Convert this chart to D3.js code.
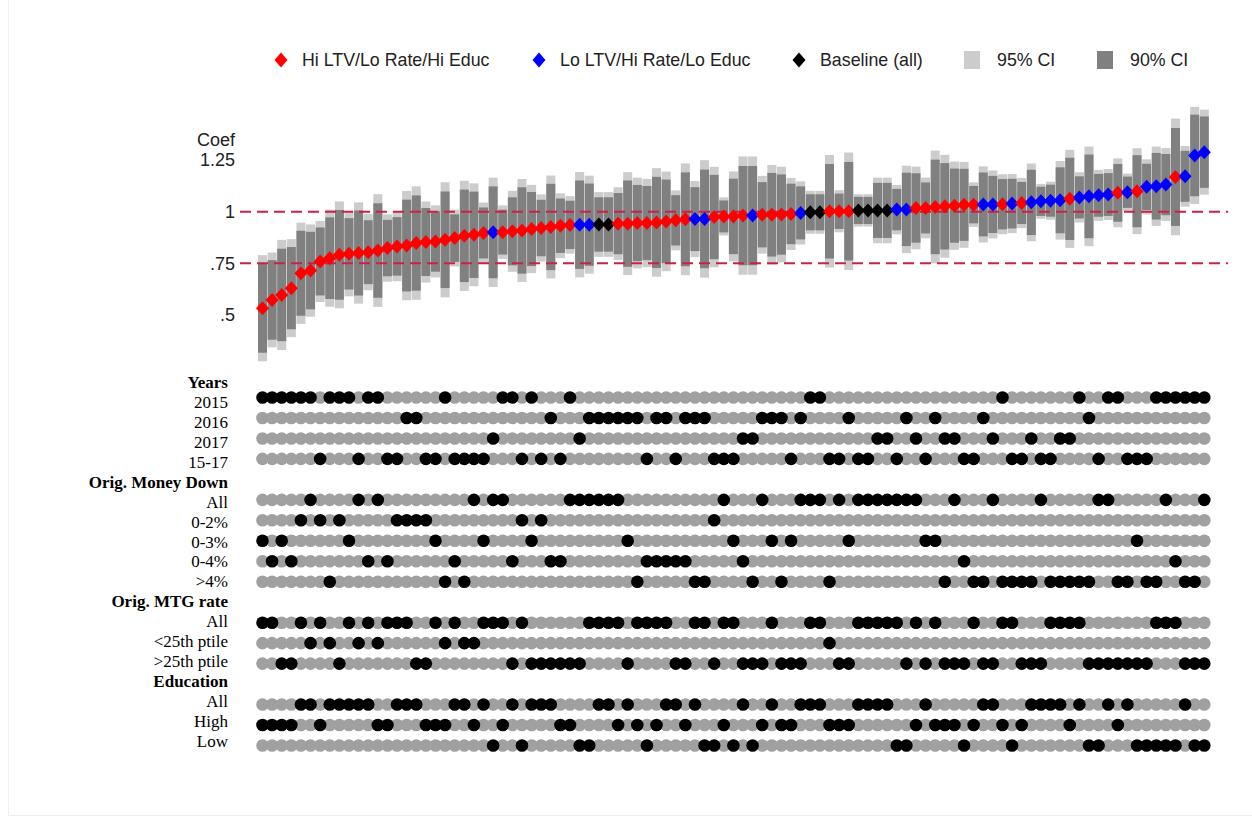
<!DOCTYPE html>
<html>
<head>
<meta charset="utf-8">
<script src="https://cdn.jsdelivr.net/npm/d3@7"></script>
<style>
  body { margin: 0; background: #fff; }
  svg { display: block; }
</style>
</head>
<body>
<div id="display"></div>
<script>
var width = 1252,
    height = 827;

var svg = d3.select("#display")
    .append("svg")
    .attr("width", width)
    .attr("height", height);

// point estimates, sorted
var coef = [0.533, 0.573, 0.597, 0.630, 0.702, 0.715, 0.759, 0.775, 0.791, 0.796, 0.800, 0.804, 0.812, 0.824, 0.832, 0.836, 0.848, 0.853, 0.856, 0.864, 0.872, 0.883, 0.888, 0.897, 0.900,
    0.901, 0.905, 0.909, 0.916, 0.921, 0.926, 0.932, 0.936, 0.937, 0.937, 0.938, 0.938, 0.942, 0.942, 0.945, 0.945, 0.948, 0.953, 0.958, 0.963, 0.964, 0.965, 0.974, 0.977,
    0.977, 0.981, 0.981, 0.985, 0.985, 0.986, 0.989, 0.994, 0.997, 0.997, 1.002, 1.002, 1.002, 1.006, 1.006, 1.006, 1.006, 1.010, 1.011, 1.018, 1.018, 1.023, 1.026, 1.029, 1.033,
    1.034, 1.035, 1.035, 1.036, 1.039, 1.042, 1.045, 1.050, 1.053, 1.055, 1.062, 1.069, 1.074, 1.079, 1.083, 1.091, 1.094, 1.099, 1.120, 1.123, 1.131, 1.168, 1.171, 1.272, 1.288];

// standard errors
var se = [0.131, 0.117, 0.136, 0.121, 0.125, 0.114, 0.100, 0.120, 0.132, 0.105, 0.125, 0.094, 0.139, 0.083, 0.086, 0.135, 0.140, 0.100, 0.089, 0.142, 0.070, 0.136, 0.127, 0.075, 0.135,
    0.066, 0.100, 0.127, 0.109, 0.083, 0.127, 0.080, 0.071, 0.130, 0.121, 0.080, 0.080, 0.090, 0.127, 0.112, 0.109, 0.134, 0.123, 0.074, 0.138, 0.094, 0.145, 0.124, 0.047,
    0.111, 0.146, 0.146, 0.096, 0.123, 0.118, 0.089, 0.078, 0.053, 0.053, 0.139, 0.052, 0.145, 0.040, 0.040, 0.081, 0.081, 0.061, 0.108, 0.102, 0.075, 0.139, 0.127, 0.109, 0.106,
    0.055, 0.094, 0.084, 0.074, 0.073, 0.062, 0.096, 0.043, 0.047, 0.097, 0.121, 0.062, 0.123, 0.063, 0.063, 0.085, 0.046, 0.106, 0.068, 0.098, 0.090, 0.144, 0.075, 0.120, 0.105];

// H = Hi LTV/Lo Rate/Hi Educ, L = Lo LTV/Hi Rate/Lo Educ, B = baseline
var specType = ("HHHHHHHHHHHHHHHHHHHHHHHH" + "L" + "HHHHHHHH" + "LL" + "BB" + "HHHHHHHH" + "LL" +
    "HHHH" + "L" + "HHHH" + "L" + "BB" + "HHH" + "BBBB" + "LL" + "HHHHHHH" + "LL" + "H" + "L" + "H" +
    "LLLL" + "H" + "LLLL" + "H" + "L" + "H" + "LLL" + "H" + "LLL").split("");

var typeColor = { H: "#ff0000", L: "#0000ff", B: "#000000" };

var yTicks = [0.5, 0.75, 1, 1.25];
var yTickLabels = [".5", ".75", "1", "1.25"];
var refLines = [0.75, 1];

// specification rows: columns where the dot is black
var rows = [
    { label: "Years", header: true },
    { label: "2015", on: [0, 1, 2, 3, 4, 5, 7, 8, 9, 11, 12, 19, 25, 26, 28, 32, 57, 58, 77, 85, 88, 89, 93, 94, 95, 96, 97, 98] },
    { label: "2016", on: [15, 16, 30, 34, 35, 36, 37, 38, 39, 41, 42, 44, 45, 46, 52, 53, 54, 56, 61, 67, 70, 75, 86] },
    { label: "2017", on: [24, 33, 50, 51, 64, 65, 68, 71, 72, 76, 80, 83, 84] },
    { label: "15-17", on: [6, 10, 13, 14, 17, 18, 20, 21, 22, 23, 27, 29, 31, 40, 43, 47, 48, 49, 55, 59, 60, 62, 63, 66, 69, 73, 74, 78, 79, 81, 82, 87, 90, 91, 92] },
    { label: "Orig. Money Down", header: true },
    { label: "All", on: [5, 10, 12, 22, 24, 25, 32, 33, 34, 35, 36, 37, 48, 52, 56, 57, 58, 60, 62, 63, 64, 65, 66, 67, 68, 72, 76, 81, 87, 88, 94, 98] },
    { label: "0-2%", on: [4, 6, 8, 14, 15, 16, 17, 27, 29, 47] },
    { label: "0-3%", on: [0, 2, 9, 18, 23, 28, 38, 49, 53, 55, 61, 69, 70, 91] },
    { label: "0-4%", on: [1, 3, 11, 13, 20, 26, 30, 31, 40, 41, 42, 43, 44, 50, 73, 95] },
    { label: ">4%", on: [7, 19, 21, 39, 45, 46, 51, 54, 59, 71, 74, 75, 77, 78, 79, 80, 82, 83, 84, 85, 86, 89, 90, 92, 93, 96, 97] },
    { label: "Orig. MTG rate", header: true },
    { label: "All", on: [0, 1, 4, 6, 9, 11, 13, 14, 15, 18, 20, 23, 24, 25, 27, 34, 35, 36, 37, 39, 40, 41, 42, 45, 46, 48, 49, 53, 57, 58, 62, 63, 64, 65, 66, 68, 70, 74, 77, 78, 82, 83, 84, 85, 93, 94, 95] },
    { label: "<25th ptile", on: [5, 7, 10, 12, 19, 21, 22, 59] },
    { label: ">25th ptile", on: [2, 3, 8, 16, 17, 26, 28, 29, 30, 31, 32, 33, 38, 43, 44, 47, 50, 51, 52, 54, 55, 56, 60, 61, 67, 69, 71, 72, 73, 75, 76, 79, 80, 81, 86, 87, 88, 89, 90, 91, 92, 96, 97, 98] },
    { label: "Education", header: true },
    { label: "All", on: [4, 5, 7, 8, 9, 10, 11, 14, 15, 16, 20, 21, 23, 26, 28, 29, 30, 35, 36, 38, 42, 43, 45, 50, 53, 56, 57, 58, 62, 63, 64, 65, 69, 75, 76, 80, 81, 82, 83, 85, 88, 90, 96] },
    { label: "High", on: [0, 1, 2, 3, 6, 12, 13, 17, 18, 19, 22, 25, 31, 32, 37, 39, 41, 44, 48, 52, 54, 55, 59, 60, 61, 68, 70, 71, 72, 74, 77, 79, 84, 89] },
    { label: "Low", on: [24, 27, 33, 34, 40, 46, 47, 49, 51, 66, 67, 73, 78, 86, 87, 91, 92, 93, 94, 95, 97, 98] }
];

var legendItems = [
    { label: "Hi LTV/Lo Rate/Hi Educ", kind: "diamond", color: typeColor.H },
    { label: "Lo LTV/Hi Rate/Lo Educ", kind: "diamond", color: typeColor.L },
    { label: "Baseline (all)", kind: "diamond", color: typeColor.B },
    { label: "95% CI", kind: "box", color: "#cccccc" },
    { label: "90% CI", kind: "box", color: "#808080" }
];

var n = coef.length;
var specs = coef.map(function (c, i) {
    return { i: i, coef: c, se: se[i], type: specType[i] };
});

// scales
var x = d3.scaleLinear().domain([0, n - 1]).range([262.5, 1204.3]);
var step = x(1) - x(0);
var y = d3.scaleLinear().domain([0.5, 1.25]).range([315, 160]);

var sansFont = "Arial, 'Liberation Sans', sans-serif";

// faint frame
svg.append("path")
    .attr("d", "M8.5,0V815.5H1252")
    .attr("fill", "none")
    .attr("stroke", "#efefef")
    .attr("stroke-width", 1);

// legend
var legendX = [281, 539, 799, 972, 1105];
var legend = svg.append("g").attr("class", "legend");
legendItems.forEach(function (d, k) {
    var g = legend.append("g").attr("transform", "translate(" + legendX[k] + ",60)");
    if (d.kind == "diamond") {
        g.append("path").attr("d", "M0,-7.5L6.5,0L0,7.5L-6.5,0Z").attr("fill", d.color);
    } else {
        g.append("rect").attr("x", -8).attr("y", -9).attr("width", 16).attr("height", 18).attr("fill", d.color);
    }
    g.append("text")
        .attr("x", d.kind == "diamond" ? 21 : 25)
        .attr("y", 0)
        .attr("dy", "0.35em")
        .attr("font-family", sansFont)
        .attr("font-size", 17.8)
        .attr("fill", "#222")
        .text(d.label);
});

// y axis text
var axis = svg.append("g").attr("class", "yaxis")
    .attr("font-family", sansFont)
    .attr("font-size", 18)
    .attr("fill", "#222")
    .attr("text-anchor", "end");

axis.selectAll("text.tick")
    .data(yTicks)
    .enter()
    .append("text")
    .attr("class", "tick")
    .attr("x", 235)
    .attr("y", d => y(d))
    .attr("dy", "0.35em")
    .text((d, i) => yTickLabels[i]);

axis.append("text")
    .attr("x", 235)
    .attr("y", y(1.25) - 20)
    .attr("dy", "0.35em")
    .text("Coef");

// confidence bars
var bars = svg.append("g").attr("class", "bars");
bars.selectAll("rect.ci95")
    .data(specs)
    .enter()
    .append("rect")
    .attr("class", "ci95")
    .attr("x", d => x(d.i) - step / 2 + 0.3)
    .attr("width", step - 0.6)
    .attr("y", d => y(d.coef + 1.96 * d.se))
    .attr("height", d => y(d.coef - 1.96 * d.se) - y(d.coef + 1.96 * d.se))
    .attr("fill", "#cccccc");

bars.selectAll("rect.ci90")
    .data(specs)
    .enter()
    .append("rect")
    .attr("class", "ci90")
    .attr("x", d => x(d.i) - step / 2 + 0.3)
    .attr("width", step - 0.6)
    .attr("y", d => y(d.coef + 1.645 * d.se))
    .attr("height", d => y(d.coef - 1.645 * d.se) - y(d.coef + 1.645 * d.se))
    .attr("fill", "#808080");

// reference lines
svg.append("g").selectAll("line")
    .data(refLines)
    .enter()
    .append("line")
    .attr("x1", 240)
    .attr("x2", 1228)
    .attr("y1", d => y(d))
    .attr("y2", d => y(d))
    .attr("stroke", "#cc1f4a")
    .attr("stroke-width", 2)
    .attr("stroke-dasharray", "11,6");

// diamonds
svg.append("g").selectAll("path.pt")
    .data(specs)
    .enter()
    .append("path")
    .attr("class", "pt")
    .attr("d", function (d) {
        var cx = x(d.i), cy = y(d.coef);
        return "M" + cx + "," + (cy - 7) + "L" + (cx + 6.5) + "," + cy + "L" + cx + "," + (cy + 7) + "L" + (cx - 6.5) + "," + cy + "Z";
    })
    .attr("fill", d => typeColor[d.type]);

// specification dots
var dotY = d3.scaleLinear().domain([1, rows.length - 1]).range([397.5, 745.5]);
var labelY = d3.scaleLinear().domain([0, rows.length - 1]).range([382, 741]);

var matrix = svg.append("g").attr("class", "matrix");
rows.forEach(function (r, k) {
    matrix.append("text")
        .attr("x", 228)
        .attr("y", labelY(k))
        .attr("dy", "0.35em")
        .attr("text-anchor", "end")
        .attr("font-family", "'Liberation Serif', 'Times New Roman', serif")
        .attr("font-size", 17)
        .attr("font-weight", r.header ? "bold" : "normal")
        .attr("fill", "#000")
        .text(r.label);
    if (r.header) return;
    var cells = d3.range(n).map(function (i) { return { i: i, on: r.on.indexOf(i) >= 0 }; });
    matrix.selectAll(null)
        .data(cells.filter(d => !d.on))
        .enter()
        .append("circle")
        .attr("cx", d => x(d.i))
        .attr("cy", dotY(k))
        .attr("r", 6.3)
        .attr("fill", "#a0a0a0");
    matrix.selectAll(null)
        .data(cells.filter(d => d.on))
        .enter()
        .append("circle")
        .attr("cx", d => x(d.i))
        .attr("cy", dotY(k))
        .attr("r", 6.3)
        .attr("fill", "#000");
});
</script>
</body>
</html>
